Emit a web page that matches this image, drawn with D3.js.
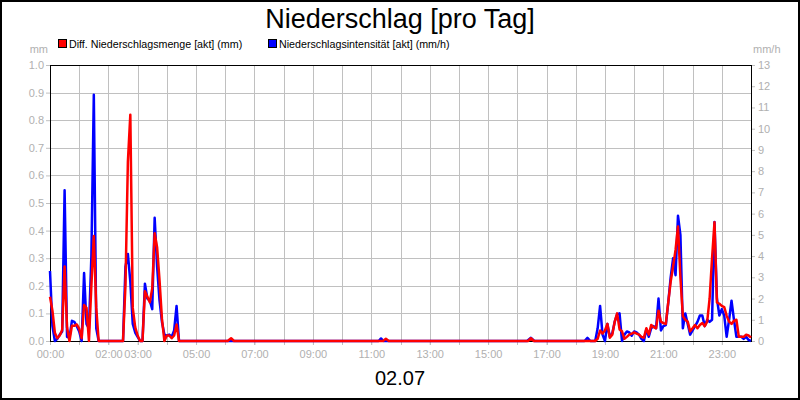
<!DOCTYPE html>
<html>
<head>
<meta charset="utf-8">
<script src="https://cdn.jsdelivr.net/npm/d3@7"></script>
<style>
  body { margin: 0; background: #fff; }
  text { font-family: "Liberation Sans", Arial, sans-serif; }
</style>
</head>
<body>
<div id="chart"></div>
<script>
    // data, time in minutes since 00:00
    var blueTimes = [0,5,10,15,20,25,30,35,40,45,50,55,60,65,70,75,80,85,90,95,100,
        150,155,160,165,170,175,180,185,190,195,200,205,210,215,220,225,230,235,240,245,250,255,260,265,
        675,680,685,980,988,995,1098,1104,1110,
        1120,1125,1130,1135,1140,1145,1150,1155,1160,1165,1170,1175,1180,1185,1190,1195,1200,1205,1210,1215,1220,
        1225,1230,1235,1240,1245,1250,1255,1260,1265,1270,1275,1280,1285,1290,1295,1300,1305,1310,1315,1320,
        1325,1330,1335,1340,1345,1350,1355,1360,1365,1370,1375,1380,1385,1390,1395,1400,1405,1410,1415,1420,
        1425,1430,1435,1440];
    // Niederschlagsintensitaet in mm/h (right axis)
    var blueValues = [3.3,0.7,0,0.1,0.3,0.45,7.1,0.2,0.15,0.95,0.9,0.7,0.45,0,3.2,0.8,0.6,4.0,11.6,0.6,0,
        0,3.5,4.1,2.8,0.8,0.4,0.2,0,0,2.7,2.0,1.9,1.5,5.8,3.5,1.9,0.9,0.3,0.25,0.3,0.2,0.5,1.65,0,
        0,0.12,0,0,0.15,0,0,0.15,0,
        0,0.6,1.65,0.3,0,0.8,0.2,0.35,0.9,1.25,1.3,0,0.3,0.45,0.4,0.25,0.45,0.4,0.3,0.1,0,
        0.55,0.2,0.6,0.7,0.6,2.0,0.5,0.7,0.75,1.8,3.0,3.9,3.1,5.9,5.0,0.6,1.3,0.8,0.3,0.5,
        0.7,0.9,1.2,1.2,0.7,1.0,0.9,1.0,5.6,2.0,1.2,1.5,1.2,0.2,1.0,1.9,1.0,0.2,0.2,0.2,
        0.1,0.2,0.05,0];

    var redTimes = [0,5,10,15,20,25,30,35,40,45,50,55,60,65,70,75,80,85,90,95,100,
        150,155,160,165,170,175,180,185,190,195,200,205,210,215,220,225,230,235,240,245,250,255,260,265,
        365,372,378,684,690,696,982,988,994,
        1120,1125,1130,1135,1140,1145,1150,1155,1160,1165,1170,1175,1180,1185,1190,1195,1200,1205,1210,1215,1220,
        1225,1230,1235,1240,1245,1250,1255,1260,1265,1270,1275,1280,1285,1290,1295,1300,1305,1310,1315,1320,
        1325,1330,1335,1340,1345,1350,1355,1360,1365,1370,1375,1380,1385,1390,1395,1400,1405,1410,1415,1420,
        1425,1430,1435,1440];
    // Diff. Niederschlagsmenge in mm (left axis)
    var redValues = [0.16,0.11,0.03,0.01,0.02,0.04,0.27,0.05,0,0.055,0.055,0.06,0.045,0.01,0.13,0.12,0,0.2,0.38,0.12,0,
        0,0.2,0.65,0.82,0.12,0.05,0.02,0,0,0.18,0.16,0.14,0.19,0.39,0.34,0.22,0.08,0,0.02,0.02,0.01,0.02,0.06,0,
        0,0.01,0,0,0.008,0,0,0.01,0,
        0,0.008,0.038,0.027,0.038,0.062,0.012,0.023,0.07,0.1,0.042,0.035,0.008,0.015,0.023,0.027,0.031,0.027,0.023,0.015,0.012,
        0.046,0.023,0.058,0.05,0.046,0.11,0.07,0.065,0.062,0.14,0.215,0.27,0.33,0.415,0.23,0.09,0.077,0.07,0.035,0.046,
        0.058,0.046,0.058,0.065,0.054,0.07,0.154,0.3,0.43,0.14,0.135,0.127,0.123,0.092,0.07,0.062,0.073,0.077,0.015,0.015,
        0.015,0.023,0.02,0.012];

    var leftTicks = [0,0.1,0.2,0.3,0.4,0.5,0.6,0.7,0.8,0.9,1.0];
    var rightTicks = [0,1,2,3,4,5,6,7,8,9,10,11,12,13];
    var labelHours = [0,2,3,5,7,9,11,13,15,17,19,21,23];
    var gridHours = d3.range(1, 24);

    var titleText = "Niederschlag [pro Tag]",
        dateText = "02.07",
        redName = "Diff. Niederschlagsmenge [akt] (mm)",
        blueName = "Niederschlagsintensität [akt] (mm/h)";

    // careful: "top" is a window property, so plot edges get their own names
    var w = 800,
        h = 400,
        plotLeft = 50,
        plotRight = 751,
        plotTop = 65,
        plotBottom = 341,
        gridColor = "#c0c0c0",
        labelColor = "#b0b0b0";

    var x = d3.scaleLinear().domain([0, 1440]).range([plotLeft, plotRight]);
    var yL = d3.scaleLinear().domain([0, 1]).range([plotBottom, plotTop]);
    var yR = d3.scaleLinear().domain([0, 13]).range([plotBottom, plotTop]);

    var svg = d3.select("#chart")
        .append("svg")
        .attr("width", w)
        .attr("height", h);

    svg.append("rect")
        .attr("x", 1).attr("y", 1)
        .attr("width", w - 2).attr("height", h - 2)
        .attr("fill", "#fff")
        .attr("stroke", "#000")
        .attr("stroke-width", 2);

    // grid lines
    svg.selectAll("line.hgrid")
        .data(leftTicks.slice(1, -1))
        .enter().append("line")
        .attr("class", "hgrid")
        .attr("x1", plotLeft).attr("x2", plotRight)
        .attr("y1", function(d) { return Math.round(yL(d)) + 0.5; })
        .attr("y2", function(d) { return Math.round(yL(d)) + 0.5; })
        .attr("stroke", gridColor);

    svg.selectAll("line.vgrid")
        .data(gridHours)
        .enter().append("line")
        .attr("class", "vgrid")
        .attr("x1", function(d) { return Math.round(x(d * 60)) + 0.5; })
        .attr("x2", function(d) { return Math.round(x(d * 60)) + 0.5; })
        .attr("y1", plotTop).attr("y2", plotBottom + 4)
        .attr("stroke", gridColor);

    // axes, ticks drawn through d3 axis generators
    var leftAxis = d3.axisLeft(yL).tickValues(leftTicks).tickSize(4).tickPadding(2)
        .tickFormat(d3.format(".1f"));
    var rightAxis = d3.axisRight(yR).tickValues(rightTicks).tickSize(4).tickPadding(3)
        .tickFormat(d3.format("d"));
    var bottomAxis = d3.axisBottom(x).tickValues(labelHours.map(function(hh) { return hh * 60; }))
        .tickSize(4).tickPadding(5)
        .tickFormat(function(d) { return d3.format("02d")(d / 60) + ":00"; });

    function styleAxis(g) {
        g.select(".domain").remove();
        g.selectAll(".tick line").attr("stroke", gridColor);
        g.selectAll(".tick text")
            .attr("fill", labelColor)
            .style("font-size", "11px")
            .style("font-family", "'Liberation Sans', Arial, sans-serif");
    }

    svg.append("g").attr("transform", "translate(" + plotLeft + ",0)").call(leftAxis).call(styleAxis);
    svg.append("g").attr("transform", "translate(" + plotRight + ",0)").call(rightAxis).call(styleAxis);
    svg.append("g").attr("transform", "translate(0," + plotBottom + ")").call(bottomAxis).call(styleAxis);

    // plot frame
    svg.append("rect")
        .attr("x", plotLeft + 0.5).attr("y", plotTop + 0.5)
        .attr("width", plotRight - plotLeft).attr("height", plotBottom - plotTop)
        .attr("fill", "none")
        .attr("stroke", "#000");

    // series, blue first so red sits on top
    var blueLine = d3.line()
        .x(function(d, i) { return x(blueTimes[i]); })
        .y(function(d) { return yR(d); });
    var redLine = d3.line()
        .x(function(d, i) { return x(redTimes[i]); })
        .y(function(d) { return yL(d); });

    svg.append("path")
        .datum(blueValues)
        .attr("d", blueLine)
        .attr("fill", "none")
        .attr("stroke", "#0000ff")
        .attr("stroke-width", 2.5)
        .attr("stroke-linejoin", "round");

    svg.append("path")
        .datum(redValues)
        .attr("d", redLine)
        .attr("fill", "none")
        .attr("stroke", "#ff0000")
        .attr("stroke-width", 2.5)
        .attr("stroke-linejoin", "round");

    // texts
    svg.append("text")
        .attr("x", 400).attr("y", 28)
        .attr("text-anchor", "middle")
        .style("font-size", "27px")
        .text(titleText);

    svg.append("text")
        .attr("x", 400).attr("y", 385)
        .attr("text-anchor", "middle")
        .style("font-size", "20px")
        .text(dateText);

    svg.append("text")
        .attr("x", 48).attr("y", 53)
        .attr("text-anchor", "end")
        .attr("fill", labelColor)
        .style("font-size", "11px")
        .text("mm");

    svg.append("text")
        .attr("x", 753).attr("y", 53)
        .attr("fill", labelColor)
        .style("font-size", "11px")
        .text("mm/h");

    // legend
    var legend = [
        {name: redName, color: "#ff0000", x: 58},
        {name: blueName, color: "#0000ff", x: 268}
    ];
    var lg = svg.selectAll("g.legend")
        .data(legend)
        .enter().append("g")
        .attr("class", "legend")
        .attr("transform", function(d) { return "translate(" + d.x + ",39)"; });
    lg.append("rect")
        .attr("x", 0.5).attr("y", 0.5)
        .attr("width", 8).attr("height", 8)
        .attr("fill", function(d) { return d.color; })
        .attr("stroke", "#000");
    lg.append("text")
        .attr("x", 11).attr("y", 9)
        .style("font-size", "10.7px")
        .text(function(d) { return d.name; });
</script>
</body>
</html>
